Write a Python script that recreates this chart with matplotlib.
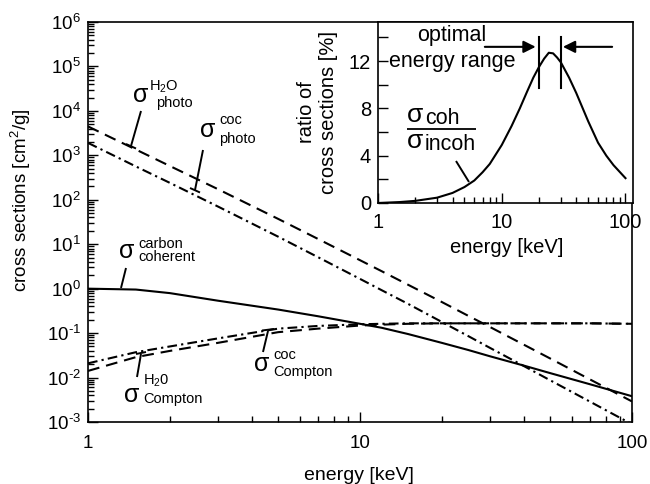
import matplotlib
matplotlib.use("Agg")
import matplotlib.pyplot as plt
from matplotlib.ticker import FixedLocator, LogLocator, NullFormatter, FixedFormatter, FuncFormatter
import math

plt.rcParams['font.family'] = ['Liberation Sans', 'DejaVu Sans']
plt.rcParams['mathtext.fontset'] = 'custom'
plt.rcParams['mathtext.rm'] = 'Liberation Sans'
plt.rcParams['mathtext.it'] = 'Liberation Sans:italic'
plt.rcParams['axes.unicode_minus'] = False
plt.rcParams['lines.scale_dashes'] = False

# ---- cross sections vs photon energy (cm^2/g) ----
energy = [1, 1.5, 2, 3, 5, 7, 10, 12, 15, 20, 25, 30, 40, 50, 70, 100]
photo_h2o = [4470, 1350, 575, 174, 37.2, 13.2, 4.37, 2.48, 1.23, 0.50, 0.245, 0.138,
             0.055, 0.0269, 0.0091, 0.0029]
photo_coc = [1905, 562, 240, 70.8, 14.8, 5.13, 1.66, 0.927, 0.457, 0.178, 0.0857, 0.0468,
             0.0182, 0.0087, 0.00288, 0.00089]
coherent_carbon = [1.0, 0.955, 0.794, 0.537, 0.339, 0.240, 0.162, 0.132, 0.0955, 0.0603,
                   0.0417, 0.0302, 0.0186, 0.0126, 0.00708, 0.0038]
compton_coc = [0.0209, 0.0372, 0.0501, 0.0759, 0.126, 0.145, 0.158, 0.162, 0.166, 0.166,
               0.166, 0.166, 0.166, 0.166, 0.166, 0.162]
compton_h2o = [0.0141, 0.0288, 0.0398, 0.0603, 0.105, 0.126, 0.148, 0.155, 0.162, 0.166,
               0.166, 0.166, 0.166, 0.166, 0.166, 0.162]

# ---- ratio coherent / incoherent (%) ----
ratio_energy = [1, 1.5, 2, 3, 4, 5, 6, 7, 8, 10, 12, 14, 16, 18, 20, 22, 24, 26, 28, 30,
                35, 40, 50, 60, 70, 80, 100]
ratio_percent = [0.0, 0.08, 0.18, 0.45, 0.85, 1.35, 1.9, 2.6, 3.3, 4.9, 6.5, 8.0, 9.4, 10.6,
                 11.5, 12.2, 12.7, 12.65, 12.3, 11.9, 10.6, 9.3, 6.9, 5.1, 4.0, 3.2, 2.1]
optimal_range = [20, 30]

main_xticks = [1, 10, 100]
main_xticklabels = ['1', '10', '100']
inset_xticks = [1, 10, 100]
inset_xticklabels = ['1', '10', '100']
inset_yticks = [0, 4, 8, 12]

DASH = (0, (8.5, 5.0))
DASHDOT = (0, (7.0, 3.0, 1.6, 3.0))
LW = 1.5

fig = plt.figure(figsize=(6.5, 4.84), dpi=100)
W, H = 650.0, 484.0


def fig_rect(x0, y0, x1, y1):
    return [x0 / W, 1 - y1 / H, (x1 - x0) / W, (y1 - y0) / H]


def decade_label(v, pos):
    n = int(round(math.log10(v)))
    if n < 0:
        return r'$10^{\text{-}%d}$' % (-n)
    return r'$10^{%d}$' % n


ax = fig.add_axes(fig_rect(88, 22, 632, 422))
ax.set_xscale('log')
ax.set_yscale('log')
ax.set_xlim(1, 100)
ax.set_ylim(1e-3, 1e6)

ax.plot(energy, photo_h2o, color='black', lw=LW, linestyle=DASH)
ax.plot(energy, photo_coc, color='black', lw=LW, linestyle=DASHDOT)
ax.plot(energy, coherent_carbon, color='black', lw=LW, linestyle='-')
ax.plot(energy, compton_h2o, color='black', lw=LW, linestyle=DASH)
ax.plot(energy, compton_coc, color='black', lw=LW, linestyle=DASHDOT)

for s in ax.spines.values():
    s.set_linewidth(1.2)

ax.xaxis.set_major_locator(FixedLocator(main_xticks))
ax.xaxis.set_major_formatter(FixedFormatter(main_xticklabels))
ax.xaxis.set_minor_locator(LogLocator(base=10, subs=range(2, 10)))
ax.xaxis.set_minor_formatter(NullFormatter())
ax.yaxis.set_major_locator(LogLocator(base=10, numticks=20))
ax.yaxis.set_major_formatter(FuncFormatter(decade_label))
ax.yaxis.set_minor_locator(LogLocator(base=10, subs=range(2, 10), numticks=20))
ax.yaxis.set_minor_formatter(NullFormatter())
ax.tick_params(which='both', direction='in', top=False, right=False, labelsize=13.5, width=1.0)
ax.tick_params(axis='x', which='major', length=7, pad=9)
ax.tick_params(axis='x', which='minor', length=4)
ax.tick_params(axis='y', which='major', length=7, pad=5)
ax.tick_params(axis='y', which='minor', length=4)

ax.set_xlabel('energy [keV]', fontsize=14)
ax.xaxis.set_label_coords(0.498, -0.112)
ax.set_ylabel('cross sections [cm$^2$/g]', fontsize=13.5)
ax.yaxis.set_label_coords(-0.102, 0.555)


def px(x, y):
    """pixel position in the figure -> main axes fraction"""
    return ((x - 88) / 544.0, (422 - y) / 400.0)


def sigma_label(axis, conv, sig_xy, sup_xy, sub_xy, sup, sub, sig_size=18, small=10.5):
    axis.text(*conv(*sig_xy), '\u03c3', transform=axis.transAxes, fontsize=sig_size,
              ha='center', va='center')
    axis.text(*conv(*sup_xy), sup, transform=axis.transAxes, fontsize=small,
              ha='left', va='center')
    axis.text(*conv(*sub_xy), sub, transform=axis.transAxes, fontsize=small,
              ha='left', va='center')


def seg(axis, conv, p0, p1, lw=1.4):
    (x0, y0), (x1, y1) = conv(*p0), conv(*p1)
    axis.plot([x0, x1], [y0, y1], color='black', lw=lw, transform=axis.transAxes,
              clip_on=False, solid_capstyle='butt')


# photoelectric, water
sigma_label(ax, px, (141, 95), (149, 87), (156, 103), 'H$_2$O', 'photo')
seg(ax, px, (141, 111), (131, 146))
seg(ax, px, (126, 144), (136, 148.5))
# photoelectric, coc
sigma_label(ax, px, (208, 130), (219, 120), (219, 139), 'coc', 'photo')
seg(ax, px, (203, 150), (195, 190))
seg(ax, px, (190, 188), (200, 192.5))
# coherent, carbon
sigma_label(ax, px, (127, 251), (138, 244), (138, 257), 'carbon', 'coherent')
seg(ax, px, (126, 268), (121, 288))
# Compton, water
sigma_label(ax, px, (132, 395), (143, 381), (143, 399), 'H$_2$0', 'Compton')
seg(ax, px, (141, 354), (137, 377))
seg(ax, px, (136, 354), (146, 352))
# Compton, coc
sigma_label(ax, px, (262, 364), (273, 355), (273, 372), 'coc', 'Compton')
seg(ax, px, (268, 331), (263, 352))
seg(ax, px, (262, 330.5), (274, 329))

# ---- inset: ratio of cross sections ----
ins = fig.add_axes(fig_rect(378, 22, 633, 203))
ins.set_facecolor('white')
ins.set_xscale('log')
ins.set_xlim(1, 115)
ins.set_ylim(0, 15.3)
ins.plot(ratio_energy, ratio_percent, color='black', lw=LW)
for s in ins.spines.values():
    s.set_linewidth(1.2)

ins.xaxis.set_major_locator(FixedLocator(inset_xticks))
ins.xaxis.set_major_formatter(FixedFormatter(inset_xticklabels))
ins.xaxis.set_minor_locator(LogLocator(base=10, subs=range(2, 10)))
ins.xaxis.set_minor_formatter(NullFormatter())
ins.yaxis.set_major_locator(FixedLocator(inset_yticks))
ins.yaxis.set_minor_locator(FixedLocator([2, 6, 10, 14]))
ins.tick_params(which='both', direction='in', top=False, right=False, labelsize=14.5, width=1.0)
ins.tick_params(axis='x', which='major', length=7, pad=7)
ins.tick_params(axis='x', which='minor', length=4)
ins.tick_params(axis='y', which='both', length=7, pad=5)

ins.set_xlabel('energy [keV]', fontsize=14.5)
ins.xaxis.set_label_coords(0.506, -0.195)
ins.set_ylabel('ratio of\ncross sections [%]', fontsize=14.5, linespacing=1.2)
ins.yaxis.set_label_coords(-0.158, 0.50)


def ipx(x, y):
    """pixel position in the figure -> inset axes fraction"""
    return ((x - 378) / 255.0, (203 - y) / 181.0)


ins.text(*ipx(452, 35), 'optimal', transform=ins.transAxes, fontsize=15.5, ha='center', va='center')
ins.text(*ipx(452, 62), 'energy range', transform=ins.transAxes, fontsize=15.5, ha='center', va='center')

bar_lo, bar_hi = 9.7, 14.0
arrow_y = 13.2
for e in optimal_range:
    ins.plot([e, e], [bar_lo, bar_hi], color='black', lw=1.5)
ins.annotate('', xy=(optimal_range[0] * 0.94, arrow_y), xytext=(7.3, arrow_y),
             arrowprops=dict(arrowstyle='-|>', color='black', lw=1.5,
                             mutation_scale=18, shrinkA=0, shrinkB=0))
ins.annotate('', xy=(optimal_range[1] * 1.04, arrow_y), xytext=(78, arrow_y),
             arrowprops=dict(arrowstyle='-|>', color='black', lw=1.5,
                             mutation_scale=18, shrinkA=0, shrinkB=0))

# sigma_coh / sigma_incoh
ins.text(*ipx(415, 115), '\u03c3', transform=ins.transAxes, fontsize=19, ha='center', va='center')
ins.text(*ipx(425, 118), 'coh', transform=ins.transAxes, fontsize=15.5, ha='left', va='center')
seg(ins, ipx, (407, 129), (476, 129), lw=1.3)
ins.text(*ipx(415, 141), '\u03c3', transform=ins.transAxes, fontsize=19, ha='center', va='center')
ins.text(*ipx(425, 145), 'incoh', transform=ins.transAxes, fontsize=15.5, ha='left', va='center')
seg(ins, ipx, (456, 161), (469, 182))

fig.savefig('out.png', dpi=100)
